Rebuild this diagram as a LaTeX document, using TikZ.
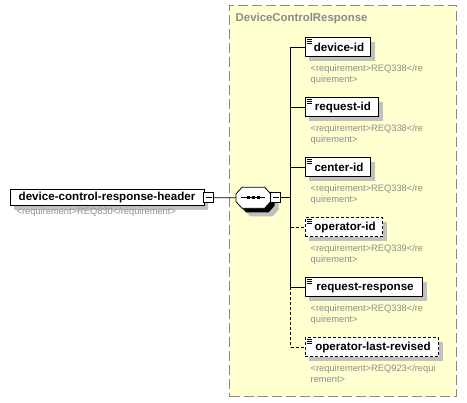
\documentclass[tikz,border=0pt]{standalone}
\usepackage{fontspec}
\setmainfont{Liberation Sans}
\usetikzlibrary{shadows,calc}
\definecolor{grpfill}{HTML}{FFFFD0}
\definecolor{grpline}{HTML}{8A8A8A}
\definecolor{reqgray}{HTML}{8C8C8C}
\definecolor{shd}{HTML}{C0C0C0}
\tikzset{
  shd/.style={drop shadow={shadow xshift=4pt,shadow yshift=-4pt,fill=shd,opacity=1}},
  elem/.style={draw=black,fill=white,line width=1pt,minimum height=19pt,inner sep=0pt,
    font=\fontsize{11.6}{13}\selectfont\bfseries,shd},
  optelem/.style={elem,dash pattern=on 3pt off 2pt},
  req/.style={anchor=north west,inner sep=0pt,align=left,text=reqgray,
    font=\fontsize{9.3}{11}\selectfont},
  conn/.style={draw=black,line width=0.8pt},
  optconn/.style={conn,dash pattern=on 3pt off 2pt},
  minusbox/.style={draw=black,fill=white,line width=0.8pt,minimum size=10pt,inner sep=0pt}
}
\newcommand{\elemicon}[1]{%
  \draw[line width=0.6pt] ($(#1.north west)+(2,2.2)$) -- +(5,0)
    ($(#1.north west)+(2,3.9)$) -- +(5,0)
    ($(#1.north west)+(2,5.6)$) -- +(5,0);}
\newcommand{\minusmark}[1]{\draw[line width=0.8pt] ($(#1.center)+(-3,0)$) -- ($(#1.center)+(3,0)$);}
\newcommand{\octpath}[2]{% #1 x shift, #2 y shift
  (236+#1,194+#2) -- (242+#1,187.3+#2) -- (264.7+#1,187.3+#2) -- (270.7+#1,194+#2)
  -- (270.7+#1,201.6+#2) -- (264.7+#1,208.3+#2) -- (242+#1,208.3+#2) -- (236+#1,201.6+#2) -- cycle}
\begin{document}
\begin{tikzpicture}[x=1pt,y=-1pt]
\useasboundingbox (0,0) rectangle (467,403);
% group box
\node[draw=grpline,fill=grpfill,line width=1pt,dash pattern=on 10pt off 4pt,
  minimum width=226.3pt,minimum height=391.4pt,inner sep=0pt] (grp) at (342.85,201) {};
\node[anchor=west,inner sep=0pt,text=grpline,font=\fontsize{11.4}{13}\selectfont\bfseries]
  (grptitle) at (235.5,19) {DeviceControlResponse};
% header
\node[elem,minimum width=194pt,minimum height=16.5pt] (hdr) at (107,197.5) {device-control-response-header};
\node[minusbox] (m1) at (208.7,197.7) {};
\minusmark{m1}
\node[req,anchor=west] (hdrreq) at (16.5,212) {\textless requirement\textgreater REQ830\textless/requirement\textgreater};
% sequence compositor
\fill[shd] \octpath{4}{4};
\draw[fill=white,line width=0.8pt] \octpath{0}{0};
\node[minimum width=34.7pt,minimum height=21pt,inner sep=0pt] (seq) at (253.35,197.8) {};
\draw[line width=0.8pt] ($(seq.center)+(-12,0)$) -- ($(seq.center)+(12,0)$);
\foreach \dx in {-5,0,5} \fill ($(seq.center)+(\dx-1.6,-1.6)$) rectangle +(3.2,3.2);
\node[minusbox] (m2) at (275.7,197.7) {};
\minusmark{m2}
\draw[conn] (m1.east) -- (seq.west);
\coordinate (bus) at (290.7,197.7);
\draw[conn] (m2.east) -- (bus);
% elements
\node[elem,minimum width=65.4pt] (e1) at (338,47.5) {\hspace{2pt}device-id};
\node[elem,minimum width=73.4pt] (e2) at (342,107.5) {\hspace{2pt}request-id};
\node[elem,minimum width=65.4pt] (e3) at (338,167.5) {\hspace{2pt}center-id};
\node[optelem,minimum width=77.4pt] (e4) at (344,227.5) {\hspace{2pt}operator-id};
\node[elem,minimum width=117.4pt] (e5) at (364,287.5) {\hspace{2pt}request-response};
\node[optelem,minimum width=133.4pt] (e6) at (372,347.5) {\hspace{2pt}operator-last-revised};
\foreach \e in {e1,e2,e3,e4,e5,e6} {\elemicon{\e}}
% requirement texts
\node[req] (r1) at (310.5,65) {\textless requirement\textgreater REQ338\textless/re\\quirement\textgreater};
\node[req] (r2) at (310.5,125) {\textless requirement\textgreater REQ338\textless/re\\quirement\textgreater};
\node[req] (r3) at (310.5,185) {\textless requirement\textgreater REQ338\textless/re\\quirement\textgreater};
\node[req] (r4) at (310.5,245) {\textless requirement\textgreater REQ339\textless/re\\quirement\textgreater};
\node[req] (r5) at (310.5,305) {\textless requirement\textgreater REQ338\textless/re\\quirement\textgreater};
\node[req] (r6) at (310.5,365) {\textless requirement\textgreater REQ923\textless/requi\\rement\textgreater};
% connectors
\draw[conn] (bus |- e1.west) -- (bus |- e5.west);
\draw[optconn] (bus |- e5.west) -- (bus |- e6.west);
\draw[conn] (bus |- e1.west) -- (e1.west);
\draw[conn] (bus |- e2.west) -- (e2.west);
\draw[conn] (bus |- e3.west) -- (e3.west);
\draw[optconn] (bus |- e4.west) -- (e4.west);
\draw[conn] (bus |- e5.west) -- (e5.west);
\draw[optconn] (bus |- e6.west) -- (e6.west);
\end{tikzpicture}
\end{document}
